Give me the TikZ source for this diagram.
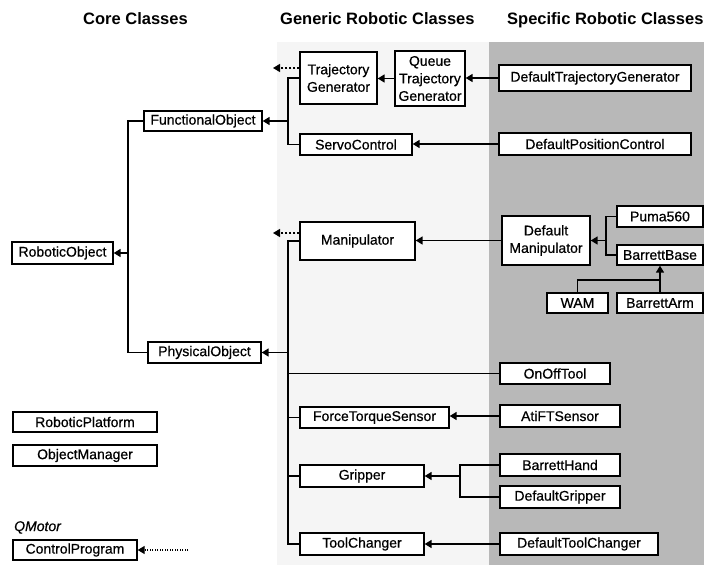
\documentclass[tikz,border=0pt]{standalone}
\usepackage{fontspec}
\setmainfont{Liberation Sans}
\newfontfamily\clsfont{Liberation Sans}[FakeBold=0.6]
\newfontfamily\clsitfont{Liberation Sans Italic}[FakeBold=0.6]
\usetikzlibrary{arrows.meta}
\begin{document}
\begin{tikzpicture}[x=1pt,y=-1pt,
  cls/.style={draw, fill=white, line width=1.3pt, inner sep=0pt, align=center,
    font=\clsfont\fontsize{14}{17.5}\selectfont},
  head/.style={font=\bfseries\fontsize{16.5}{19}\selectfont, anchor=base west, inner sep=0pt},
  conn/.style={line width=1.5pt},
  inh/.style={line width=1.5pt, -{Triangle[length=7pt,width=8pt]}},
  dsh/.style={line width=1.2pt, dash pattern=on 2.5pt off 1.5pt, -{Triangle[length=7pt,width=8pt]}},
  dotl/.style={line width=1.1pt, dash pattern=on 1pt off 1.5pt, -{Triangle[length=7pt,width=8pt]}}]
\useasboundingbox (0,0) rectangle (704,565);

% column backgrounds
\fill[black!4] (277,42) rectangle (489,565);
\fill[black!28] (489,42) rectangle (704,565);

% column headings
\node[head, anchor=base] (hcore) at (135.5,24) {Core Classes};
\node[head] (hgen) at (280,24) {Generic Robotic Classes};
\node[head] (hspec) at (507,24) {Specific Robotic Classes};

% core classes
\node[cls, minimum width=118, minimum height=20] (FO) at (203,121) {FunctionalObject};
\node[cls, minimum width=101, minimum height=22] (RO) at (62.5,253) {RoboticObject};
\node[cls, minimum width=113, minimum height=21] (PO) at (204.5,352.5) {PhysicalObject};
\node[cls, minimum width=144, minimum height=20] (RP) at (85,422) {RoboticPlatform};
\node[cls, minimum width=144, minimum height=21] (OM) at (85,455.5) {ObjectManager};
\node[font=\clsitfont\fontsize{14}{17}\selectfont, anchor=base west, inner sep=0pt] (qm) at (14,531) {QMotor};
\node[cls, minimum width=124, minimum height=20] (CP) at (75,550) {ControlProgram};

% generic robotic classes
\node[cls, minimum width=77, minimum height=52] (TG) at (338.5,78) {Trajectory\\Generator};
\node[cls, minimum width=70, minimum height=55] (QTG) at (430,78.5) {Queue\\Trajectory\\Generator};
\node[cls, minimum width=112, minimum height=21] (SC) at (356,144.5) {ServoControl};
\node[cls, minimum width=115, minimum height=38] (MA) at (357.5,241) {Manipulator};
\node[cls, minimum width=149, minimum height=21] (FTS) at (374.5,417.5) {ForceTorqueSensor};
\node[cls, minimum width=124, minimum height=22] (GR) at (362,476) {Gripper};
\node[cls, minimum width=124, minimum height=22] (TC) at (362,544) {ToolChanger};

% specific robotic classes
\node[cls, minimum width=192, minimum height=26] (DTG) at (595,78) {DefaultTrajectoryGenerator};
\node[cls, minimum width=192, minimum height=22] (DPC) at (595,144) {DefaultPositionControl};
\node[cls, minimum width=88, minimum height=49] (DM) at (546,240.5) {Default\\Manipulator};
\node[cls, minimum width=86, minimum height=21] (PU) at (660,216.5) {Puma560};
\node[cls, minimum width=86, minimum height=20] (BB) at (660,255) {BarrettBase};
\node[cls, minimum width=61, minimum height=20] (WAM) at (577.5,303) {WAM};
\node[cls, minimum width=86, minimum height=20] (BA) at (660,303) {BarrettArm};
\node[cls, minimum width=110, minimum height=21] (OO) at (555,373.5) {OnOffTool};
\node[cls, minimum width=120, minimum height=22] (ATI) at (560,416) {AtiFTSensor};
\node[cls, minimum width=120, minimum height=22] (BH) at (560,465) {BarrettHand};
\node[cls, minimum width=120, minimum height=22] (DG) at (560,497) {DefaultGripper};
\node[cls, minimum width=158, minimum height=22] (DTC) at (579,544) {DefaultToolChanger};

% junction points and free ends
\coordinate (cj) at (128,253);
\coordinate (gj1) at (288,121);
\coordinate (gj2) at (288,352.5);
\coordinate (sj) at (606,240.5);
\coordinate (wj) at (660,280);
\coordinate (hj) at (460,476);
\coordinate (tgd) at (273,68);
\coordinate (mad) at (273,233);
\coordinate (cpd) at (188,550);

% core hierarchy
\draw[conn] (FO.west) -| (cj) |- (PO.west);
\draw[inh] (cj) -- (RO.east);

% functional branch
\draw[conn] (TG.west) -| (gj1) |- (SC.west);
\draw[inh] (gj1) -- (FO.east);
\draw[inh] (QTG.west) -- (QTG.west -| TG.east);
\draw[inh] (DTG.west) -- (DTG.west -| QTG.east);
\draw[inh] (DPC.west) -- (DPC.west -| SC.east);
\draw[dsh] (TG.west |- tgd) -- (tgd);

% physical branch
\draw[conn] (MA.west) -| (gj2) |- (TC.west);
\draw[conn] (gj2 |- OO.west) -- (OO.west);
\draw[conn] (gj2 |- FTS.west) -- (FTS.west);
\draw[conn] (gj2 |- GR.west) -- (GR.west);
\draw[inh] (gj2) -- (PO.east);
\draw[dsh] (MA.west |- mad) -- (mad);
\draw[inh] (DM.west) -- (DM.west -| MA.east);
\draw[conn] (PU.west) -| (sj) |- (BB.west);
\draw[inh] (sj) -- (DM.east);
\draw[inh] (BA.north) -- (BB.south);
\draw[conn] (WAM.north) |- (wj);
\draw[inh] (ATI.west) -- (ATI.west -| FTS.east);
\draw[conn] (BH.west) -| (hj) |- (DG.west);
\draw[inh] (hj) -- (GR.east);
\draw[inh] (DTC.west) -- (DTC.west -| TC.east);

% QMotor link
\draw[dotl] (cpd) -- (CP.east);
\end{tikzpicture}
\end{document}
